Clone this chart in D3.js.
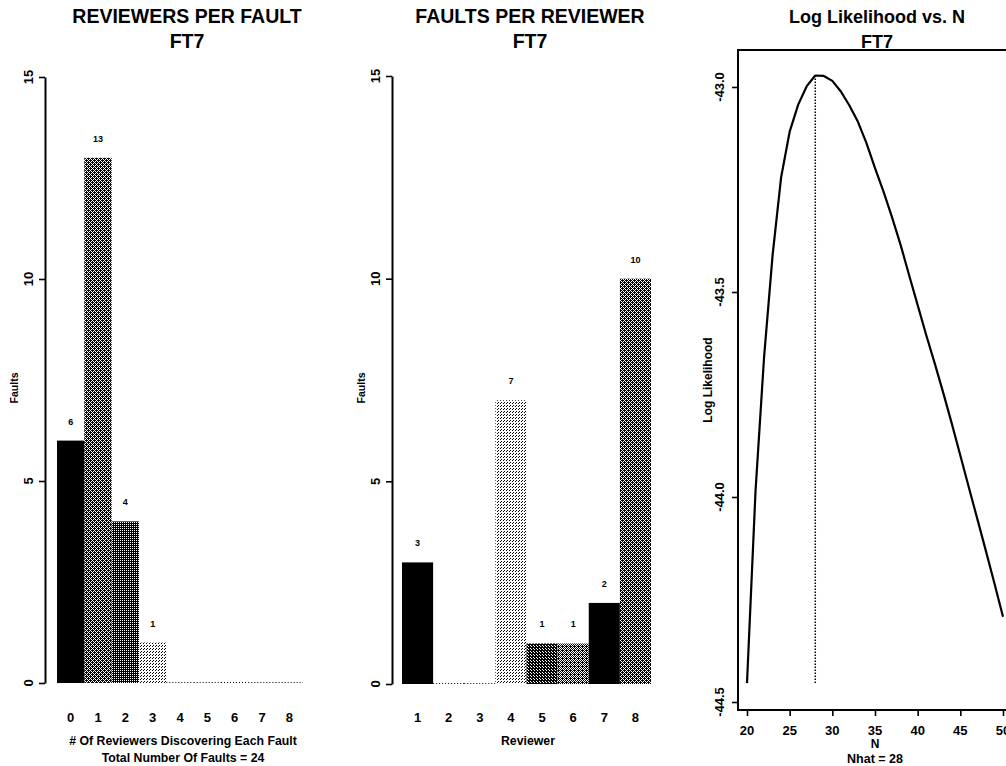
<!DOCTYPE html>
<html><head><meta charset="utf-8">
<script src="https://cdn.jsdelivr.net/npm/d3@7"></script>
<style>
body{margin:0;background:#fff}
svg{display:block;background:#fff}
text{font-family:"Liberation Sans",Arial,Helvetica,sans-serif;fill:#000}
</style>
</head><body>
<svg id="c" width="1006" height="766"></svg>
<script>
// ---------- data ----------
const reviewersCategories = ["0","1","2","3","4","5","6","7","8"];
const reviewersPerFault   = [6, 13, 4, 1, 0, 0, 0, 0, 0];
const reviewerCategories  = ["1","2","3","4","5","6","7","8"];
const faultsPerReviewer   = [3, 0, 0, 7, 1, 1, 2, 10];
const barYTicks = [0, 5, 10, 15];

const nValues = [20,21,22,23,24,25,26,27,28,29,30,31,32,33,34,35,36,37,38,39,40,41,42,43,44,45,46,47,48,49,50];
const logLik  = [-44.454,-43.985,-43.659,-43.410,-43.220,-43.109,-43.043,-42.998,-42.972,-42.973,
                 -42.985,-43.011,-43.045,-43.085,-43.137,-43.198,-43.255,-43.318,-43.385,-43.459,
                 -43.532,-43.605,-43.674,-43.746,-43.821,-43.899,-43.977,-44.054,-44.132,-44.211,-44.292];
const llXTicks = [20, 25, 30, 35, 40, 45, 50];
const llYTicks = [-43.0, -43.5, -44.0, -44.5];
const nHat = 28;
const totalFaults = 24;

// ---------- setup ----------
const svg = d3.select("#c");
const defs = svg.append("defs");

// bitmap fill patterns (1 = black pixel)
const patterns = {
  xhatchDark: ["0111","1010","1101","1010"],
  darkDots:   ["01","11"],
  lightDots:  ["100","001","000"],
  darkDots2:  ["110","011","111"],
  xhatchMed:  ["0101","1010","0111","1010"]
};
Object.entries(patterns).forEach(([id, rows]) => {
  const h = rows.length, w = rows[0].length;
  const p = defs.append("pattern").attr("id", id)
    .attr("patternUnits", "userSpaceOnUse").attr("width", w).attr("height", h);
  p.append("rect").attr("width", w).attr("height", h).attr("fill", "#fff");
  rows.forEach((r, yy) => r.split("").forEach((c, xx) => {
    if (c === "1") p.append("rect").attr("x", xx).attr("y", yy).attr("width", 1).attr("height", 1).attr("fill", "#000");
  }));
});
const fillCycle = ["#000", "url(#xhatchDark)", "url(#darkDots)", "url(#lightDots)", "url(#darkDots2)", "url(#xhatchMed)"];

function rotatedLabel(g, x, y, txt, size, weight) {
  g.append("text").attr("transform", `translate(${x},${y}) rotate(-90)`)
    .attr("text-anchor", "middle").attr("dy", "0.35em")
    .style("font-size", size + "px").style("font-weight", weight || "bold").text(txt);
}

function title(lines, cx, weight, size) {
  svg.append("text").attr("x", cx).attr("y", 23).attr("text-anchor", "middle")
    .style("font-size", size + "px").style("font-weight", weight).text(lines[0]);
  svg.append("text").attr("x", cx).attr("y", 48).attr("text-anchor", "middle")
    .style("font-size", size + "px").style("font-weight", weight).text(lines[1]);
}

function barPanel(cfg) {
  const g = svg.append("g");
  const y = d3.scaleLinear().domain([0, 15]).range([cfg.y0, cfg.y15]);
  const x = d3.scaleBand().domain(cfg.cats).range(cfg.xRange).padding(0);

  const ax = g.append("g").attr("transform", `translate(${cfg.axisX},0)`)
    .call(d3.axisLeft(y).tickValues(barYTicks).tickSize(6).tickSizeOuter(0).tickFormat(""));
  ax.select(".domain").attr("stroke", "#000").attr("stroke-width", 2);
  ax.selectAll(".tick line").attr("stroke", "#000").attr("stroke-width", 1.6);
  barYTicks.forEach(t => rotatedLabel(g, cfg.axisX - 17, y(t), String(t), 13));
  rotatedLabel(g, cfg.axisX - 31, 388, "Faults", 10.5);

  cfg.vals.forEach((v, i) => {
    const c = cfg.cats[i];
    if (v > 0) {
      g.append("rect").attr("x", x(c)).attr("y", y(v)).attr("width", x.bandwidth())
        .attr("height", y(0) - y(v)).attr("fill", fillCycle[i % fillCycle.length]);
      g.append("text").attr("x", x(c) + x.bandwidth() / 2).attr("y", y(v) - 16)
        .attr("text-anchor", "middle").style("font-size", "9px").style("font-weight", "bold").text(v);
    } else {
      g.append("line").attr("x1", x(c)).attr("x2", x(c) + x.bandwidth())
        .attr("y1", y(0) - 0.5).attr("y2", y(0) - 0.5)
        .attr("stroke", "#000").attr("stroke-width", 1).attr("stroke-dasharray", "1,2");
    }
  });
  cfg.cats.forEach(c => {
    g.append("text").attr("x", x(c) + x.bandwidth() / 2).attr("y", 722).attr("text-anchor", "middle")
      .style("font-size", "13px").style("font-weight", "bold").text(c);
  });
  cfg.xTitle.forEach((t, k) => {
    g.append("text").attr("x", cfg.xTitleX).attr("y", 744.5 + k * 17).attr("text-anchor", "middle")
      .style("font-size", "12.3px").style("font-weight", "bold").text(t);
  });
}

// ---------- panel 1 ----------
title(["REVIEWERS PER FAULT", "FT7"], 187, "bold", 19.5);
barPanel({cats: reviewersCategories, vals: reviewersPerFault, y0: 683, y15: 77, xRange: [57, 303], axisX: 45,
  xTitle: ["# Of Reviewers Discovering Each Fault", "Total Number Of Faults = " + totalFaults], xTitleX: 183});

// ---------- panel 2 ----------
title(["FAULTS PER REVIEWER", "FT7"], 530, "bold", 19.5);
barPanel({cats: reviewerCategories, vals: faultsPerReviewer, y0: 684, y15: 76, xRange: [402, 651], axisX: 392,
  xTitle: ["Reviewer"], xTitleX: 528});

// ---------- panel 3 ----------
title(["Log Likelihood vs. N", "FT7"], 877, "bold", 18);
{
  const g = svg.append("g");
  const x = d3.scaleLinear().domain([20, 50]).range([747, 1003]);
  const y = d3.scaleLinear().domain([-44.5, -43.0]).range([702, 87]);
  const left = 738, top = 50, bottom = 710, right = 1013;
  g.append("path").attr("d", `M${right},${top}H${left}V${bottom}H${right}`)
    .attr("fill", "none").attr("stroke", "#000").attr("stroke-width", 2);

  const xa = g.append("g").attr("transform", `translate(0,${bottom})`)
    .call(d3.axisBottom(x).tickValues(llXTicks).tickSize(6).tickSizeOuter(0).tickFormat(""));
  xa.select(".domain").remove();
  xa.selectAll(".tick line").attr("stroke", "#000").attr("stroke-width", 1.6);
  llXTicks.forEach(t => g.append("text").attr("x", x(t)).attr("y", 735).attr("text-anchor", "middle")
    .style("font-size", "13px").style("font-weight", "bold").text(t));

  const ya = g.append("g").attr("transform", `translate(${left},0)`)
    .call(d3.axisLeft(y).tickValues(llYTicks).tickSize(6).tickSizeOuter(0).tickFormat(""));
  ya.select(".domain").remove();
  ya.selectAll(".tick line").attr("stroke", "#000").attr("stroke-width", 1.6);
  llYTicks.forEach(t => rotatedLabel(g, 719, y(t), t.toFixed(1), 13));
  rotatedLabel(g, 708, 380, "Log Likelihood", 12);

  g.append("text").attr("x", x(35)).attr("y", 747.5).attr("text-anchor", "middle")
    .style("font-size", "12px").style("font-weight", "bold").text("N");
  g.append("text").attr("x", x(35)).attr("y", 763).attr("text-anchor", "middle")
    .style("font-size", "12.5px").style("font-weight", "bold").text("Nhat = " + nHat);

  const pts = nValues.map((n, i) => [n, logLik[i]]);
  g.append("path").datum(pts)
    .attr("d", d3.line().x(d => x(d[0])).y(d => y(d[1])))
    .attr("fill", "none").attr("stroke", "#000").attr("stroke-width", 2.2).attr("stroke-linejoin", "round");
  g.append("line").attr("x1", x(nHat)).attr("x2", x(nHat))
    .attr("y1", y(d3.max(logLik))).attr("y2", y(d3.min(logLik)))
    .attr("stroke", "#000").attr("stroke-width", 1.5).attr("stroke-dasharray", "1.5,1.5");
}
</script>
</body></html>
